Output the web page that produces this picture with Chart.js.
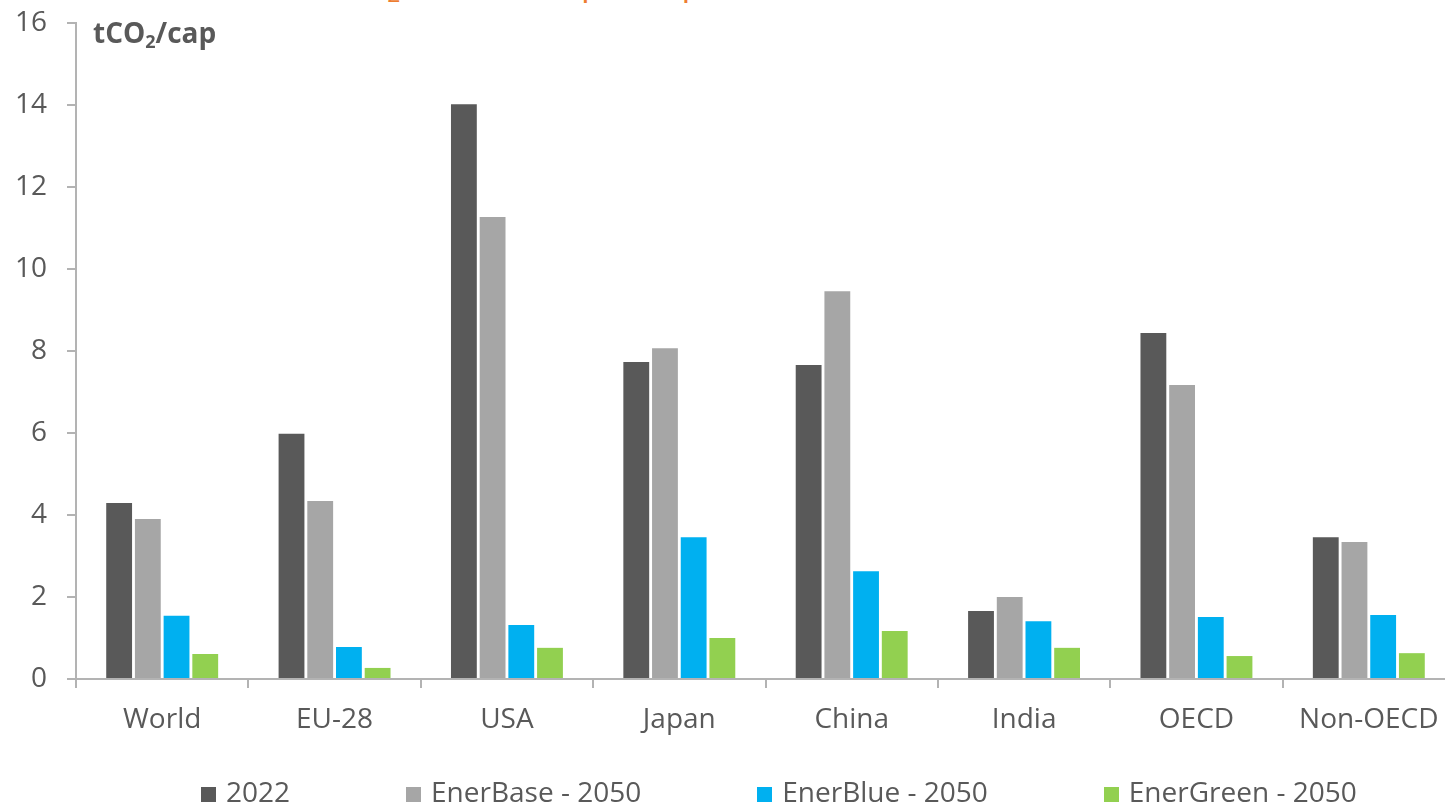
<!DOCTYPE html>
<html>
<head>
<meta charset="utf-8">
<script src="https://cdn.jsdelivr.net/npm/chart.js@4"></script>
<style>
  body { margin: 0; width: 1445px; height: 804px; overflow: hidden; background: #fff; position: relative; font-family: "Open Sans", sans-serif; }
  #chart { position: absolute; left: 0; top: 0; }
  .heading { position: absolute; left: 338px; top: -36px; font-size: 35px; line-height: 35px; color: #ed7d31; white-space: nowrap; }
  .heading span { font-size: 23px; position: relative; top: 7px; }
  #legend { position: absolute; left: 201px; top: 777px; display: flex; gap: 116px; font-size: 28px; line-height: 28px; color: #595959; }
  #legend .item { display: flex; align-items: flex-end; white-space: nowrap; }
  #legend .swatch { width: 15px; height: 15px; margin-right: 10px; margin-bottom: 3px; }
</style>
</head>
<body>
<div class="heading">CO<span>2</span> emissions per capita</div>
<canvas id="chart" width="1555" height="804"></canvas>
<div id="legend"></div>
<script>
const regions = ["World", "EU-28", "USA", "Japan", "China", "India", "OECD", "Non-OECD"]
const actual2022 = [4.29, 5.98, 14.02, 7.73, 7.66, 1.66, 8.44, 3.46]
const enerBase2050 = [3.90, 4.34, 11.27, 8.07, 9.46, 2.00, 7.17, 3.34]
const enerBlue2050 = [1.54, 0.78, 1.32, 3.46, 2.63, 1.41, 1.51, 1.56]
const enerGreen2050 = [0.61, 0.27, 0.76, 1.00, 1.17, 0.76, 0.56, 0.63]
const seriesNames = ["2022", "EnerBase - 2050", "EnerBlue - 2050", "EnerGreen - 2050"]
const seriesColors = ["#595959", "#a6a6a6", "#00b0f0", "#92d050"]
const yTicks = [0, 2, 4, 6, 8, 10, 12, 14, 16]

const textColor = "#595959"
const axisColor = "#b3b3b3"

// unit label in the top-left corner of the plot
const unitLabel = {
  id: "unitLabel",
  afterDraw(chart) {
    const ctx = chart.ctx
    const x0 = chart.chartArea.left + 17
    const y0 = 43
    ctx.save()
    ctx.fillStyle = textColor
    ctx.textBaseline = "alphabetic"
    ctx.font = "bold 28px 'Open Sans'"
    ctx.fillText("tCO", x0, y0)
    let x = x0 + ctx.measureText("tCO").width
    ctx.font = "bold 18px 'Open Sans'"
    ctx.fillText("2", x, y0 + 5)
    x += ctx.measureText("2").width
    ctx.font = "bold 28px 'Open Sans'"
    ctx.fillText("/cap", x, y0)
    ctx.restore()
  },
}

const allSeries = [actual2022, enerBase2050, enerBlue2050, enerGreen2050]

const chart = new Chart(document.getElementById("chart"), {
  type: "bar",
  data: {
    labels: regions,
    datasets: allSeries.map((values, i) => ({
      label: seriesNames[i],
      data: values,
      backgroundColor: seriesColors[i],
      borderWidth: 0,
      categoryPercentage: 0.666,
      barPercentage: 0.9,
    })),
  },
  options: {
    responsive: false,
    animation: false,
    layout: { padding: { top: 23, right: 100, bottom: 65, left: 0 } },
    plugins: {
      legend: { display: false },
      tooltip: { enabled: false },
    },
    scales: {
      x: {
        grid: { drawOnChartArea: false, drawTicks: true, tickLength: 9, color: axisColor, lineWidth: 2 },
        border: { color: axisColor, width: 2 },
        ticks: { font: { family: "Open Sans", size: 28 }, color: textColor, padding: 15, maxRotation: 0 },
        afterFit: (s) => { s.height = 60 },
      },
      y: {
        min: 0,
        max: 16,
        grid: { drawOnChartArea: false, drawTicks: true, tickLength: 9, color: axisColor, lineWidth: 2 },
        border: { color: axisColor, width: 2 },
        ticks: { stepSize: 2, font: { family: "Open Sans", size: 28 }, color: textColor, padding: 20 },
        afterBuildTicks: (s) => { s.ticks = yTicks.map((v) => ({ value: v })) },
        afterFit: (s) => {
          s.width = 76
          s.paddingTop = 0
          s.paddingBottom = 0
        },
      },
    },
  },
  plugins: [unitLabel],
})

// legend row under the plot
const legend = document.getElementById("legend")
chart.data.datasets.forEach((ds) => {
  const item = document.createElement("div")
  item.className = "item"
  const swatch = document.createElement("div")
  swatch.className = "swatch"
  swatch.style.background = ds.backgroundColor
  const label = document.createElement("span")
  label.textContent = ds.label
  item.appendChild(swatch)
  item.appendChild(label)
  legend.appendChild(item)
})
</script>
</body>
</html>
